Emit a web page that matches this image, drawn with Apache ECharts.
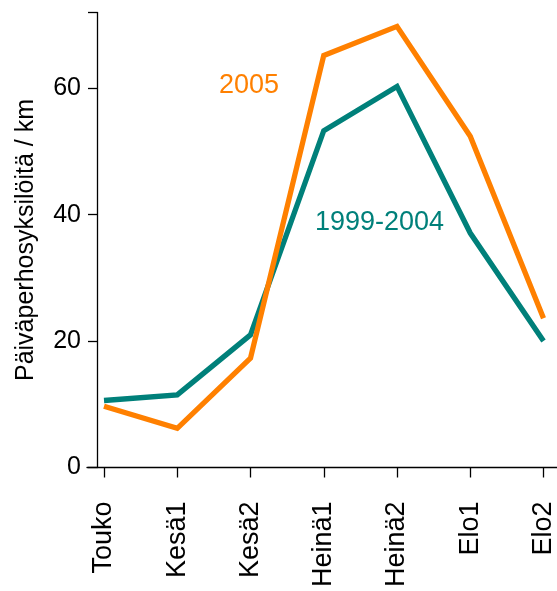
<!DOCTYPE html>
<html>
<head>
<meta charset="utf-8">
<script src="https://cdn.jsdelivr.net/npm/echarts@6/dist/echarts.min.js"></script>
<style>
html,body{margin:0;padding:0;background:#fff;}
#c{width:557px;height:591px;}
</style>
</head>
<body>
<div id="c"></div>
<script>
const categories = ['Touko', 'Kesä1', 'Kesä2', 'Heinä1', 'Heinä2', 'Elo1', 'Elo2'];
const values2005 = [9.7, 6.2, 17.3, 65.2, 69.8, 52.4, 23.6];
const values1999_2004 = [10.6, 11.5, 21.0, 53.3, 60.3, 37.1, 20.0];
const yTicks = [0, 20, 40, 60];
const yMax = 72;
const seriesNames = ['2005', '1999-2004'];
const yName = 'Päiväperhosyksilöitä / km';

const FONT = 'Liberation Sans, Arial, sans-serif';
const ORANGE = '#FF8000';
const TEAL = '#00807A';

const chart = echarts.init(document.getElementById('c'), null, {renderer: 'canvas'});
chart.setOption({
  animation: false,
  backgroundColor: '#ffffff',
  grid: [
    {left: 104, right: 12, top: 12.5, bottom: 123.5, containLabel: false},
    {left: 87, right: 0, top: 12.5, bottom: 123.5, containLabel: false}
  ],
  xAxis: [
    {
      type: 'category', gridIndex: 0, data: categories, boundaryGap: false,
      axisLine: {show: false},
      axisTick: {show: true, inside: false, length: 10, alignWithLabel: true, lineStyle: {color: '#000', width: 1.3}},
      axisLabel: {rotate: 90, margin: 34, color: '#000', fontSize: 27, fontFamily: FONT, interval: 0},
      splitLine: {show: false}
    },
    {
      type: 'value', gridIndex: 1, min: 0, max: 1,
      axisLine: {show: true, onZero: false, lineStyle: {color: '#000', width: 1.3}},
      axisTick: {show: false}, axisLabel: {show: false}, splitLine: {show: false}
    }
  ],
  yAxis: [
    {
      type: 'value', gridIndex: 0, min: 0, max: yMax, interval: 20, offset: 7,
      name: yName, nameLocation: 'middle', nameGap: 58, nameRotate: 90,
      nameTextStyle: {color: '#000', fontSize: 25, fontFamily: FONT},
      axisLine: {show: true, lineStyle: {color: '#000', width: 1.3}},
      axisTick: {show: true, inside: false, length: 9, lineStyle: {color: '#000', width: 1.3}},
      axisLabel: {
        color: '#000', fontSize: 25, fontFamily: FONT, margin: 16,
        formatter: v => yTicks.includes(v) ? String(v) : ''
      },
      splitLine: {show: false}
    },
    {
      type: 'value', gridIndex: 1, min: 0, max: 1, show: false
    }
  ],
  series: [
    {
      name: seriesNames[1], type: 'line', xAxisIndex: 0, yAxisIndex: 0,
      data: values1999_2004, symbol: 'none', lineStyle: {color: TEAL, width: 5.3, join: 'miter'},
      itemStyle: {color: TEAL}
    },
    {
      name: seriesNames[0], type: 'line', xAxisIndex: 0, yAxisIndex: 0,
      data: values2005, symbol: 'none', lineStyle: {color: ORANGE, width: 5.3, join: 'miter'},
      itemStyle: {color: ORANGE}
    }
  ],
  graphic: [
    {type: 'text', left: 219, top: 72, style: {text: seriesNames[0], fill: ORANGE, font: '27px ' + FONT}},
    {type: 'text', left: 315, top: 209, style: {text: seriesNames[1], fill: TEAL, font: '27px ' + FONT}}
  ]
});
</script>
</body>
</html>
